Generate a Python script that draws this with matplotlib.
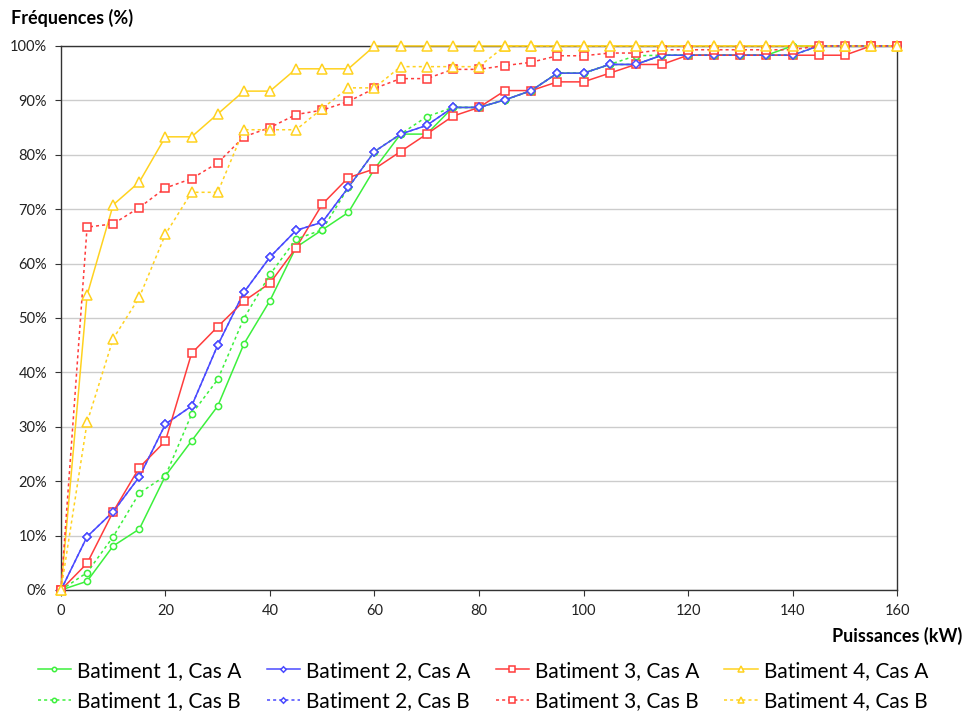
import matplotlib
matplotlib.use("Agg")
import matplotlib.pyplot as plt
from matplotlib.ticker import MultipleLocator, FuncFormatter

plt.rcParams["font.family"] = ["Lato", "DejaVu Sans"]

# puissance (kW), pas de 5
power = list(range(0, 165, 5))

# fréquences cumulées (%)
bat1_a = [0, 1.6, 8.1, 11.2, 21.0, 27.4, 33.8, 45.2, 53.2, 63.0, 66.2, 69.4, 77.4,
          83.8, 83.8, 88.7, 88.7, 90.1, 91.8, 95.0, 95.0, 96.6, 96.6, 98.3, 98.3,
          98.3, 98.3, 98.3, 100, 100, 100, 100, 100]
bat1_b = [0, 3.2, 9.8, 17.8, 21.0, 32.3, 38.7, 49.9, 58.0, 64.5, 66.2, 74.0, 80.6,
          83.8, 87.0, 88.7, 88.7, 90.1, 91.8, 95.0, 95.0, 96.6, 98.2, 98.3, 98.3,
          98.3, 98.3, 98.3, 98.3, 100, 100, 100, 100]
bat2_a = [0, 9.8, 14.4, 20.8, 30.5, 33.8, 45.0, 54.7, 61.2, 66.1, 67.6, 74.0, 80.6,
          83.8, 85.4, 88.7, 88.7, 90.1, 91.8, 95.0, 95.0, 96.6, 96.6, 98.3, 98.3,
          98.3, 98.3, 98.3, 98.3, 100, 100, 100, 100]
bat2_b = [0, 9.8, 14.4, 20.8, 30.5, 33.8, 45.0, 54.7, 61.2, 66.1, 67.6, 74.0, 80.6,
          83.8, 85.4, 88.7, 88.7, 90.1, 91.8, 95.0, 95.0, 96.6, 96.6, 98.3, 98.3,
          98.3, 98.3, 98.3, 98.3, 100, 100, 100, 100]
bat3_a = [0, 4.9, 14.4, 22.5, 27.4, 43.5, 48.4, 53.1, 56.4, 62.9, 70.9, 75.8, 77.4,
          80.6, 83.8, 87.1, 88.7, 91.8, 91.8, 93.4, 93.4, 95.0, 96.6, 96.6, 98.3,
          98.3, 98.3, 98.3, 98.3, 98.3, 98.3, 100, 100]
bat3_b = [0, 66.7, 67.3, 70.3, 73.9, 75.6, 78.5, 83.3, 85.0, 87.4, 88.2, 89.8, 92.2,
          94.0, 94.0, 95.7, 95.7, 96.4, 97.0, 98.2, 98.2, 98.7, 98.7, 99.3, 99.3,
          99.3, 99.3, 99.3, 99.3, 100, 100, 100, 100]
bat4_a = [0, 54.2, 70.8, 75.0, 83.3, 83.3, 87.5, 91.7, 91.7, 95.8, 95.8, 95.8, 100,
          100, 100, 100, 100, 100, 100, 100, 100, 100, 100, 100, 100,
          100, 100, 100, 100, 100, 100, 100, 100]
bat4_b = [0, 30.8, 46.2, 53.8, 65.4, 73.1, 73.1, 84.6, 84.6, 84.6, 88.5, 92.3, 92.3,
          96.2, 96.2, 96.2, 96.2, 100, 100, 100, 100, 100, 100, 100, 100,
          100, 100, 100, 100, 100, 100, 100, 100]

labels = ["Batiment 1, Cas A", "Batiment 2, Cas A", "Batiment 3, Cas A", "Batiment 4, Cas A",
          "Batiment 1, Cas B", "Batiment 2, Cas B", "Batiment 3, Cas B", "Batiment 4, Cas B"]

fig = plt.figure(figsize=(9.66, 7.16), dpi=100)
ax = fig.add_axes([0.0631, 0.176, 0.8655, 0.7598])

GREEN, BLUE, RED, YELLOW = "#3cf03c", "#4a4aff", "#ff3c3c", "#ffd21f"
DOT = (0, (2, 2))
series = [
    (bat1_a, GREEN, "o", "-", 4.5, 0),
    (bat2_a, BLUE, "D", "-", 4.0, 1),
    (bat3_a, RED, "s", "-", 6.0, 2),
    (bat4_a, YELLOW, "^", "-", 6.5, 3),
    (bat1_b, GREEN, "o", DOT, 4.5, 4),
    (bat2_b, BLUE, "D", DOT, 4.0, 5),
    (bat3_b, RED, "s", DOT, 6.0, 6),
    (bat4_b, YELLOW, "^", DOT, 6.5, 7),
]
handles = {}
for vals, col, mk, ls, ms, i in series:
    h, = ax.plot(power, vals, color=col, marker=mk, ls=ls, lw=1.1, ms=ms,
                 mfc="white", mec=col, mew=1.1, label=labels[i], clip_on=False,
                 zorder=3)
    handles[i] = h

ax.set_xlim(0, 160)
ax.set_ylim(0, 100)
ax.xaxis.set_major_locator(MultipleLocator(20))
ax.yaxis.set_major_locator(MultipleLocator(10))
ax.yaxis.set_major_formatter(FuncFormatter(lambda v, p: f"{v:.0f}%"))
ax.grid(axis="y", color="#cccccc", lw=1)
ax.set_axisbelow(True)
for s in ax.spines.values():
    s.set_color("#333333")
    s.set_linewidth(1)
ax.tick_params(direction="out", length=4, color="#333333", labelsize=10.5,
               labelcolor="#222222", pad=6)

fig.text(0.011, 0.975, "Fréquences (%)", fontsize=13, fontweight="bold", va="center")
fig.text(0.996, 0.112, "Puissances (kW)", fontsize=13, fontweight="bold",
         ha="right", va="center")

order = [0, 4, 1, 5, 2, 6, 3, 7]
fig.legend([handles[i] for i in order], [labels[i] for i in order], ncol=4,
           loc="center", bbox_to_anchor=(0.5, 0.042), frameon=False, fontsize=15,
           markerscale=0.7, handlelength=1.6, handletextpad=0.3, columnspacing=1.2,
           labelspacing=0.5, borderpad=0.2)

fig.savefig("out.png", dpi=100)
